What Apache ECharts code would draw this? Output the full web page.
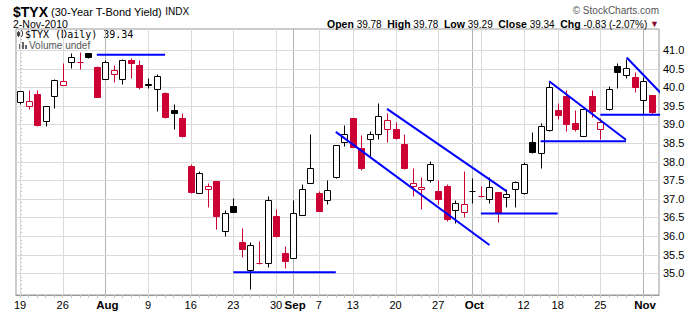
<!DOCTYPE html>
<html><head><meta charset="utf-8">
<script src="https://cdn.jsdelivr.net/npm/echarts@6/dist/echarts.min.js"></script>
<style>html,body{margin:0;padding:0;background:#fff}#c{width:700px;height:312px}</style>
</head><body><div id="c"></div>
<script>
// ---- data ----
const dates = ['2010-07-19','2010-07-20','2010-07-21','2010-07-22','2010-07-23',
'2010-07-26','2010-07-27','2010-07-28','2010-07-29','2010-07-30',
'2010-08-02','2010-08-03','2010-08-04','2010-08-05','2010-08-06',
'2010-08-09','2010-08-10','2010-08-11','2010-08-12','2010-08-13',
'2010-08-16','2010-08-17','2010-08-18','2010-08-19','2010-08-20',
'2010-08-23','2010-08-24','2010-08-25','2010-08-26','2010-08-27',
'2010-08-30','2010-08-31','2010-09-01','2010-09-02','2010-09-03',
'2010-09-07','2010-09-08','2010-09-09','2010-09-10',
'2010-09-13','2010-09-14','2010-09-15','2010-09-16','2010-09-17',
'2010-09-20','2010-09-21','2010-09-22','2010-09-23','2010-09-24',
'2010-09-27','2010-09-28','2010-09-29','2010-09-30','2010-10-01',
'2010-10-04','2010-10-05','2010-10-06','2010-10-07','2010-10-08',
'2010-10-12','2010-10-13','2010-10-14','2010-10-15',
'2010-10-18','2010-10-19','2010-10-20','2010-10-21','2010-10-22',
'2010-10-25','2010-10-26','2010-10-27','2010-10-28','2010-10-29',
'2010-11-01','2010-11-02'];
const opens = [39.59,39.49,39.82,39.10,39.77, 40.05,40.67,40.67,40.91,40.55,
40.21,40.35,40.21,40.72,40.59, 40.07,39.94,39.85,39.39,39.17,
37.88,37.15,37.27,37.48,36.13, 36.80,35.84,35.10,35.28,35.27,
36.53,35.54,35.40,36.56,37.43, 37.16,36.96,37.60,38.54,
39.17,38.36,38.60,38.73,38.87, 38.89,38.47,37.34,37.27,37.52,
37.20,37.34,36.69,36.64,37.20, 37.09,36.99,37.19,37.04,37.26,
37.16,38.53,38.22,38.85, 39.39,39.76,39.03,38.70,39.76,
38.87,39.41,40.57,40.32,40.27, 39.65,39.78];
const highs = [39.89,39.92,39.92,39.49,40.22, 40.66,40.91,40.94,40.93,40.57,
40.73,40.59,40.75,40.78,40.73, 40.25,40.35,39.87,39.55,39.31,
37.94,37.74,37.44,37.48,36.70, 37.02,36.21,35.84,35.87,37.08,
36.73,35.73,36.97,37.41,38.73, 37.20,37.50,38.46,38.98,
39.17,38.72,38.82,39.58,39.31, 39.06,38.74,37.83,37.59,38.01,
37.51,37.39,36.98,37.74,37.55, 37.34,37.60,37.19,37.26,37.49,
37.98,38.80,39.05,40.15, 39.58,39.92,39.39,39.41,39.92,
39.16,40.03,40.66,40.77,40.40, 40.28,39.78];
const lows = [39.54,39.42,38.95,38.95,39.45, 40.05,40.52,40.50,40.78,39.74,
40.21,40.15,40.08,40.26,39.96, 39.99,39.37,39.18,38.87,38.66,
37.16,37.15,36.77,36.19,35.99, 36.65,35.43,34.59,35.26,35.17,
35.98,35.15,35.40,36.56,37.43, 36.68,36.87,37.57,38.42,
38.40,37.77,38.16,38.61,38.53, 38.61,37.80,37.09,36.74,37.46,
36.86,36.40,36.34,36.52,36.88, 37.04,36.90,36.37,36.79,36.77,
37.12,38.24,37.84,38.83, 39.15,38.83,38.83,38.68,39.21,
38.61,39.39,39.99,40.24,39.88, 39.28,39.29];
const closes = [39.89,39.62,38.98,39.49,40.20, 40.18,40.80,40.67,40.80,39.74,
40.67,40.45,40.72,40.64,40.01, 40.08,40.30,39.20,39.30,38.69,
37.19,37.69,37.34,36.54,36.61, 36.65,35.64,35.75,35.28,36.96,
36.00,35.32,36.61,37.26,37.82, 36.68,37.23,38.44,38.73,
38.40,37.84,38.73,39.22,39.11, 38.64,37.84,37.42,37.33,37.93,
36.99,36.46,36.90,36.85,37.21, 37.09,37.31,36.61,37.13,37.45,
37.93,38.27,38.96,40.00, 39.26,39.02,38.87,39.41,39.37,
39.06,39.94,40.40,40.52,40.00, 40.17,39.34];

// tick labels (trading-day index -> label)
const xLabelIdx = [0,5,10,15,20,25,30,32,35,39,44,49,53,59,63,68,73];
const xLabels   = ['19','26','Aug','9','16','23','30','Sep','7','13','20','27','Oct','12','18','25','Nov'];
const monthIdx  = [10,32,53,73];
const weekIdx   = [0,5,10,15,20,25,30,32,35,39,44,49,53,54,59,63,68,73];
const yTicks    = [35.0,35.5,36.0,36.5,37.0,37.5,38.0,38.5,39.0,39.5,40.0,40.5,41.0];

// trendlines drawn on the chart: [[idx, value],[idx, value]]
const trendLines = [
  [[9,40.87],[17,40.87]],
  [[25,35.03],[37,35.03]],
  [[43,39.42],[57,37.21]],
  [[37,38.80],[55,35.76]],
  [[54,36.61],[63,36.61]],
  [[62,40.16],[71,38.59]],
  [[61,38.55],[71,38.55]],
  [[68,39.26],[76.9,39.26]],
  [[71.08,40.80],[78.1,39.12]]
];

// ---- chart ----
const F = 'Arial, "Liberation Sans", Helvetica, sans-serif';
const RED = '#cc0033';
const candleData = dates.map((d, i) => [i, opens[i], closes[i], lows[i], highs[i], i > 0 ? closes[i-1] : NaN]);
const labelMap = {};
xLabelIdx.forEach((v, k) => labelMap[v] = xLabels[k]);
const minorX = dates.map((d, i) => i);
const minorY = [];
for (let v = 345; v <= 415; v++) minorY.push(v / 10);

function renderCandle(params, api) {
  const i = api.value(0), o = api.value(1), c = api.value(2), lo = api.value(3), hi = api.value(4), pc = api.value(5);
  const color = (isNaN(pc) || c >= pc) ? '#000' : RED;
  const p = api.coord([i, o]);
  const xc = Math.round(p[0]) + 0.5;
  const yo = p[1], yc = api.coord([i, c])[1];
  const yh = Math.round(api.coord([i, hi])[1]) + 0.5;
  const yl = Math.round(api.coord([i, lo])[1]) + 0.5;
  const top = Math.round(Math.min(yo, yc)) + 0.5;
  const bot = Math.round(Math.max(yo, yc)) + 0.5;
  const hw = 3;
  const ch = [];
  const ls = {stroke: color, lineWidth: 1};
  if (yh < top) ch.push({type: 'line', shape: {x1: xc, y1: yh, x2: xc, y2: top}, style: ls});
  if (yl > bot) ch.push({type: 'line', shape: {x1: xc, y1: bot, x2: xc, y2: yl}, style: ls});
  if (bot - top < 1) {
    ch.push({type: 'line', shape: {x1: xc - hw, y1: top, x2: xc + hw, y2: top}, style: ls});
  } else if (c > o) {
    ch.push({type: 'rect', shape: {x: xc - hw, y: top, width: 2 * hw, height: bot - top}, style: {fill: '#fff', stroke: color, lineWidth: 1}});
  } else {
    ch.push({type: 'rect', shape: {x: xc - hw, y: top, width: 2 * hw, height: bot - top}, style: {fill: color, stroke: color, lineWidth: 1}});
  }
  return {type: 'group', children: ch};
}

function renderVGrid(params, api) {
  const cs = params.coordSys;
  const x = Math.round(api.coord([api.value(0), 38])[0]) + 0.5;
  const isMonth = monthIdx.indexOf(api.value(0)) >= 0;
  return {type: 'line', shape: {x1: x, y1: cs.y, x2: x, y2: cs.y + cs.height},
    style: {stroke: isMonth ? '#b4b4b4' : '#dadada', lineWidth: 1}};
}
function renderHGrid(params, api) {
  const cs = params.coordSys;
  const y = Math.round(api.coord([0, api.value(0)])[1]) + 0.5;
  return {type: 'line', shape: {x1: cs.x, y1: y, x2: cs.x + cs.width, y2: y},
    style: {stroke: '#dadada', lineWidth: 1}};
}

const series = [
  {type: 'custom', renderItem: renderVGrid, data: weekIdx.map(v => [v]), encode: {x: 0}, z: 1, silent: true, animation: false},
  {type: 'custom', renderItem: renderHGrid, data: yTicks.map(v => [v]), encode: {y: 0}, z: 1, silent: true, animation: false},
  {type: 'custom', renderItem: renderCandle, data: candleData, encode: {x: 0, y: [1, 2, 3, 4]}, z: 3, silent: true, animation: false}
];
trendLines.forEach(tl => series.push({
  type: 'line', data: tl, symbol: 'none', showSymbol: false, clip: false, z: 5, silent: true, animation: false,
  lineStyle: {color: '#0000ff', width: 2}
}));

const chart = echarts.init(document.getElementById('c'), null, {renderer: 'svg'});
chart.setOption({
  animation: false,
  backgroundColor: '#fff',
  grid: {left: 16, right: 41, top: 29, bottom: 17, show: true, borderColor: '#999', borderWidth: 1, backgroundColor: 'transparent'},
  xAxis: {
    type: 'value', min: -0.47, max: 74.87,
    axisLine: {show: true, lineStyle: {color: '#999'}},
    splitLine: {show: false},
    axisTick: {show: true, customValues: minorX, length: 3, inside: false, lineStyle: {color: '#c8c8c8'}},
    axisLabel: {
      customValues: xLabelIdx, margin: 4, fontSize: 11, fontFamily: F, color: '#000',
      formatter: v => { const s = labelMap[Math.round(v)] || ''; return monthIdx.indexOf(Math.round(v)) >= 0 ? '{b|' + s + '}' : s; },
      rich: {b: {fontWeight: 'bold', fontSize: 11.5, fontFamily: F, color: '#000', padding: [0, 0, 0, 4]}}
    }
  },
  yAxis: {
    type: 'value', position: 'right', min: 34.417, max: 41.565, scale: true,
    axisLine: {show: true, lineStyle: {color: '#999'}},
    splitLine: {show: false},
    axisTick: {show: true, customValues: minorY, length: 2, inside: false, lineStyle: {color: '#bbb'}},
    axisLabel: {customValues: yTicks, margin: 4, fontSize: 11, fontFamily: F, color: '#000', formatter: v => v.toFixed(1)}
  },
  graphic: [
    {type: 'text', x: 13, y: 11.5, silent: true, style: {
      text: '{a|$TYX}{b| (30-Year T-Bond Yield) }{c|INDX}', textVerticalAlign: 'middle',
      rich: {a: {fontSize: 14, fontWeight: 'bold', fontFamily: F, fill: '#000', lineHeight: 14},
             b: {fontSize: 11, fontFamily: F, fill: '#000', lineHeight: 14},
             c: {fontSize: 10, fontFamily: F, fill: '#000', lineHeight: 14}}}},
    {type: 'text', x: 13, y: 24, silent: true, style: {text: '2-Nov-2010', font: '10.5px ' + F, fill: '#000', textVerticalAlign: 'middle'}},
    {type: 'text', x: 659, y: 10, silent: true, style: {text: '\u00a9 StockCharts.com', font: '10px ' + F, fill: '#555', textAlign: 'right', textVerticalAlign: 'middle'}},
    {type: 'text', x: 659, y: 24, silent: true, style: {
      text: '{b|Open} {n|39.78}  {b|High} {n|39.78}  {b|Low} {n|39.29}  {b|Close} {n|39.34}  {b|Chg} {n|-0.83 (-2.07%)} {t|\u25bc}',
      textAlign: 'right', textVerticalAlign: 'middle', font: '10px ' + F,
      rich: {b: {fontSize: 10.5, fontWeight: 'bold', fontFamily: F, fill: '#000'},
             n: {fontSize: 10, fontFamily: F, fill: '#000'},
             t: {fontSize: 9, fontFamily: F, fill: '#8b0a32'}}}},
    // legend icons and texts inside the plot
    {type: 'group', silent: true, children: [
      {type: 'line', shape: {x1: 18.5, y1: 31, x2: 18.5, y2: 37}, style: {stroke: '#444', lineWidth: 1}},
      {type: 'rect', shape: {x: 17.5, y: 32.5, width: 2, height: 3}, style: {fill: '#444', stroke: '#444', lineWidth: 1}},
      {type: 'line', shape: {x1: 21.5, y1: 30, x2: 21.5, y2: 37}, style: {stroke: '#444', lineWidth: 1}},
      {type: 'rect', shape: {x: 20.5, y: 31.5, width: 2, height: 4}, style: {fill: '#fff', stroke: '#444', lineWidth: 1}},
      {type: 'rect', shape: {x: 19, y: 44, width: 2, height: 5}, style: {fill: '#666'}},
      {type: 'rect', shape: {x: 22, y: 42, width: 2, height: 7}, style: {fill: '#666'}},
      {type: 'rect', shape: {x: 25, y: 45, width: 2, height: 4}, style: {fill: '#666'}}
    ]},
    {type: 'text', x: 25, y: 34.5, silent: true, style: {text: '$TYX (Daily) 39.34', font: '10px "DejaVu Sans Mono", monospace', fill: '#000', textVerticalAlign: 'middle'}},
    {type: 'text', x: 29, y: 45.5, silent: true, style: {text: 'Volume undef', font: '10px ' + F, fill: '#555', textVerticalAlign: 'middle'}}
  ],
  series: series
});
</script></body></html>
